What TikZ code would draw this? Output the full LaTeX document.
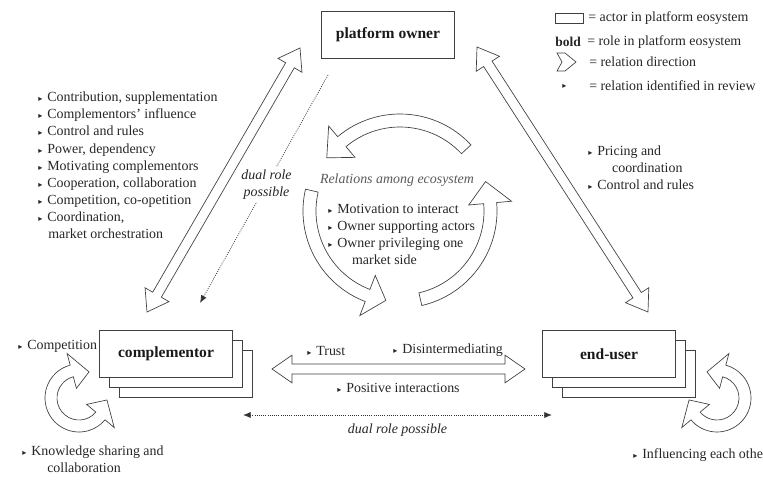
\documentclass[tikz,border=0pt]{standalone}
\usepackage{fontspec}
\setmainfont{Liberation Serif}
\newfontfamily\symf{DejaVu Sans}
\usetikzlibrary{arrows.meta,positioning,calc,shadows}

% small triangle bullet
\newcommand\itm{{\symf\fontsize{6}{6}\selectfont ▸}\hspace{1.3mm}}

% straight two-headed hollow arrow
\def\hlen{5.2mm}
\def\hwid{3.6mm}
\def\swid{1.3mm}
\newcommand\bothway[2]{%
  \draw[hollow] (#1) -- ($(#1)!\hlen!(#2)!\hwid!90:(#2)$)
    -- ($(#1)!\hlen!(#2)!\swid!90:(#2)$) -- ($(#2)!\hlen!(#1)!\swid!-90:(#1)$)
    -- ($(#2)!\hlen!(#1)!\hwid!-90:(#1)$) -- (#2)
    -- ($(#2)!\hlen!(#1)!\hwid!90:(#1)$) -- ($(#2)!\hlen!(#1)!\swid!90:(#1)$)
    -- ($(#1)!\hlen!(#2)!\swid!-90:(#2)$) -- ($(#1)!\hlen!(#2)!\hwid!-90:(#2)$)
    -- cycle;}

% bent hollow arrow, head at the end: center, start, end, r in, r out, overhang, tip angle
\newcommand\bentarrow[7]{%
  \pgfmathsetmacro\bmid{(#4+#5)/2}%
  \pgfmathsetmacro\bin{#4-#6}%
  \pgfmathsetmacro\bout{#5+#6}%
  \pgfmathsetmacro\btip{#3+#7}%
  \draw[hollow, shift={(#1)}] (#2:#5) arc[start angle=#2, end angle=#3, radius=#5]
    -- (#3:\bout) -- (\btip:\bmid) -- (#3:\bin) -- (#3:#4)
    arc[start angle=#3, end angle=#2, radius=#4] -- cycle;}

% same, with a head at both ends
\newcommand\bentboth[7]{%
  \pgfmathsetmacro\bmid{(#4+#5)/2}%
  \pgfmathsetmacro\bin{#4-#6}%
  \pgfmathsetmacro\bout{#5+#6}%
  \pgfmathsetmacro\btip{#3+#7}%
  \pgfmathsetmacro\btail{#2-#7}%
  \draw[hollow, shift={(#1)}] (#2:#4) -- (#2:\bin) -- (\btail:\bmid) -- (#2:\bout)
    -- (#2:#5) arc[start angle=#2, end angle=#3, radius=#5]
    -- (#3:\bout) -- (\btip:\bmid) -- (#3:\bin) -- (#3:#4)
    arc[start angle=#3, end angle=#2, radius=#4] -- cycle;}

\begin{document}
\begin{tikzpicture}[
  x=0.26mm, y=0.26mm,
  >=Latex,
  actor/.style={
    draw=black!75, fill=white, line width=0.6pt,
    minimum width=34.5mm, minimum height=12.2mm,
    font=\fontsize{11.5}{13}\selectfont\bfseries, text=black!90
  },
  crowd/.style={actor,
    double copy shadow={shadow xshift=2.6mm, shadow yshift=-2.6mm,
      draw=black!75, fill=white, line width=0.6pt}},
  hollow/.style={draw=black!75, fill=white, line width=0.5pt, line join=miter},
  txt/.style={font=\fontsize{10.3}{12.6}\selectfont, text=black!85,
    align=left, inner sep=0pt},
  dlab/.style={txt, font=\fontsize{10.3}{12.6}\selectfont\itshape, align=center},
  role/.style={draw=black!80, densely dotted, line width=0.6pt}
]
  \useasboundingbox (0,0) rectangle (763,-480);

  % actors
  \node[actor] (po) at (388,-35) {platform owner};
  \node[crowd] (cm) at (166,-354) {complementor};
  \node[crowd] (eu) at (609,-354) {end-user};

  % arrow ends
  \coordinate (cmN) at (147,-312);
  \coordinate (poW) at (300,-48);
  \coordinate (poE) at (477,-47);
  \coordinate (euN) at (648,-312);
  \coordinate (cmE) at (272,-369);
  \coordinate (euW) at (525,-369);
  \coordinate (poS) at (328,-75);
  \coordinate (cmD) at (200,-303);
  \coordinate (cmB) at (243,-415);
  \coordinate (euB) at (552,-415);
  \coordinate (cyc) at (400,-211);
  \coordinate (cyL) at (79,-398);
  \coordinate (cyR) at (717,-398);

  \bothway{cmN}{poW}
  \bothway{poE}{euN}
  \bothway{cmE}{euW}

  \draw[role, -{Latex[length=2mm,width=1.6mm]}] (poS) --
    node[dlab, fill=white, inner sep=2pt, pos=0.48] {dual role\\possible} (cmD);
  \draw[role, {Latex[length=2mm,width=1.6mm]}-{Latex[length=2mm,width=1.6mm]}] (cmB) --
    node[dlab, below=6pt] {dual role possible} (euB);

  % cycle in the middle
  \bentarrow{cyc}{43}{130}{84}{97}{14}{14}
  \bentarrow{cyc}{167}{249}{84}{97}{15}{12}
  \bentarrow{cyc}{283}{365}{84}{97}{15}{14}
  \node[dlab, text=black!65] (rel) at (397,-180) {Relations among ecosystem};
  \node[txt, anchor=north west] (cl) at (328,-204)
    {\itm Motivation to interact\\ \itm Owner supporting actors\\
     \itm Owner privileging one\\ \hspace{6.2mm}market side};

  % self relations
  \bentboth{cyL}{105}{320}{22}{34}{12}{36}
  \bentboth{cyR}{220}{435}{22}{34}{12}{36}

  % relation lists
  \node[txt, anchor=north west] (ll) at (38,-92)
    {\itm Contribution, supplementation\\ \itm Complementors' influence\\
     \itm Control and rules\\ \itm Power, dependency\\
     \itm Motivating complementors\\ \itm Cooperation, collaboration\\
     \itm Competition, co-opetition\\ \itm Coordination,\\
     \hspace{2.6mm}market orchestration};
  \node[txt, anchor=north west] (rl) at (588,-146)
    {\itm Pricing and\\ \hspace{6.2mm}coordination\\ \itm Control and rules};
  \node[txt, anchor=west] (comp) at (18,-346) {\itm Competition};
  \node[txt, anchor=north west] (know) at (22,-446)
    {\itm Knowledge sharing and\\ \hspace{6.5mm}collaboration};
  \node[txt, anchor=west] (infl) at (633,-455) {\itm Influencing each othe};
  \node[txt, anchor=west] (trust) at (307,-351) {\itm Trust};
  \node[txt, anchor=west] (disi) at (393,-350) {\itm Disintermediating};
  \node[txt, anchor=west] (posi) at (337,-388) {\itm Positive interactions};

  % legend
  \draw[hollow] (555,-13) rectangle (583,-23);
  \node[txt, anchor=west] (lg1) at (588,-18) {= actor in platform eosystem};
  \node[txt, anchor=west, font=\fontsize{10}{12}\selectfont\bfseries] (lgb) at (555,-42) {bold};
  \node[txt, anchor=west] (lg2) at (587,-42) {= role in platform eosystem};
  \draw[hollow] (557,-53) -- (565,-53) -- (576,-62) -- (565,-71) -- (557,-71)
    -- (562,-62) -- cycle;
  \node[txt, anchor=west] (lg3) at (589,-62) {= relation direction};
  \node[txt, anchor=west] (lgd) at (562,-86) {{\symf\fontsize{6}{6}\selectfont ▸}};
  \node[txt, anchor=west] (lg4) at (589,-86) {= relation identified in review};
\end{tikzpicture}
\end{document}
